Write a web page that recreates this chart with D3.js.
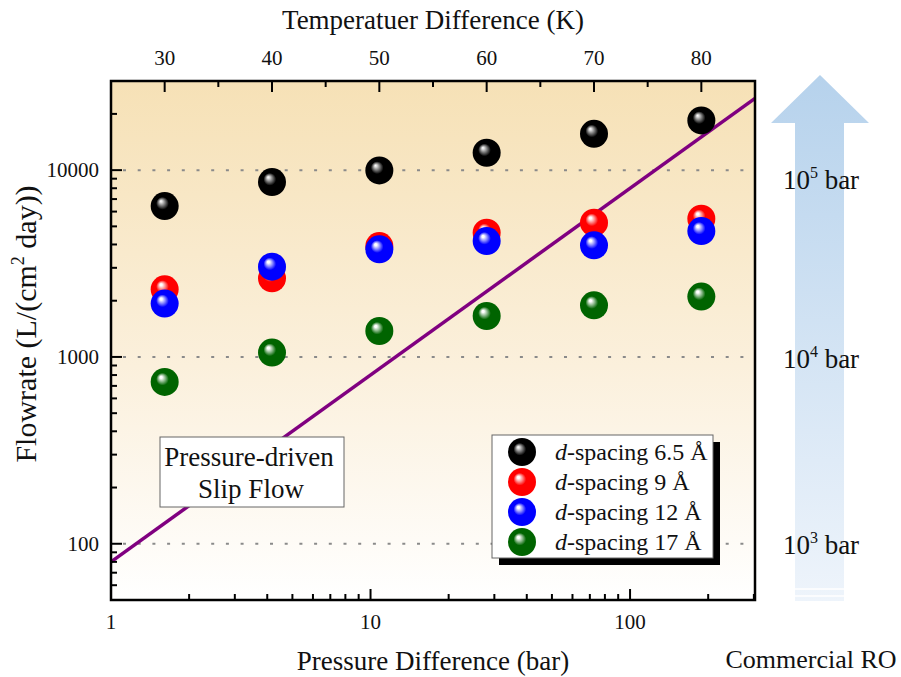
<!DOCTYPE html>
<html>
<head>
<meta charset="utf-8">
<script src="https://cdn.jsdelivr.net/npm/d3@7"></script>
<style>
  html, body { margin: 0; padding: 0; background: #fff; }
  svg { display: block; }
  text { font-family: "Liberation Serif", "Times New Roman", serif; fill: #111; }
</style>
</head>
<body>
<svg id="chart" width="901" height="677"></svg>
<script>
// ---------- data ----------
const temperatures = [30, 40, 50, 60, 70, 80];            // K (top axis)
const pressures = [1.62, 4.13, 10.6, 28.2, 73.2, 190];    // bar (bottom axis)
const seriesNames = ["6.5 Å", "9 Å", "12 Å", "17 Å"];
const seriesColors = ["#000000", "#ff0000", "#0000ff", "#006400"];
const flow65 = [6420, 8630, 9960, 12390, 15650, 18450];
const flow9  = [2300, 2636, 3923, 4625, 5233, 5500];
const flow12 = [1930, 3043, 3767, 4170, 3958, 4718];
const flow17 = [735, 1055, 1377, 1657, 1890, 2104];
const slipFlowX = [1, 303];
const slipFlowY = [80, 24240];
const yMajorTicks = [100, 1000, 10000];
const xMajorTicks = [1, 10, 100];
const topTicks = [30, 40, 50, 60, 70, 80];
const topMinorTicks = [35, 45, 55, 65, 75];
const roLabels = [["10", "5"], ["10", "4"], ["10", "3"]];

const allSeries = [flow65, flow9, flow12, flow17];

// ---------- layout ----------
const svg = d3.select("#chart");
const L = 111, R = 755, T = 81, B = 600;
const x = d3.scaleLog().domain([1, 303]).range([L, R]);
const xTop = d3.scaleLinear().domain([25, 85]).range([L, R]);
const y = d3.scaleLog().domain([50, 30000]).range([B, T]);

const defs = svg.append("defs");
const bg = defs.append("linearGradient").attr("id", "bg").attr("x1", 0).attr("y1", 0).attr("x2", 0).attr("y2", 1);
bg.append("stop").attr("offset", "0%").attr("stop-color", "#f6e1b6");
bg.append("stop").attr("offset", "55%").attr("stop-color", "#fbf0dc");
bg.append("stop").attr("offset", "100%").attr("stop-color", "#ffffff");

const ag = defs.append("linearGradient").attr("id", "arrowGrad").attr("x1", 0).attr("y1", 0).attr("x2", 0).attr("y2", 1);
ag.append("stop").attr("offset", "0%").attr("stop-color", "#b6d2ec");
ag.append("stop").attr("offset", "100%").attr("stop-color", "#eef4fb");

function light(c) { return d3.interpolateRgb(c, "#ffffff")(0.55); }
seriesColors.forEach((c, i) => {
  const g = defs.append("radialGradient").attr("id", "ball" + i)
    .attr("cx", "0.5").attr("cy", "0.5").attr("r", "0.5")
    .attr("fx", "0.36").attr("fy", "0.32");
  g.append("stop").attr("offset", "0%").attr("stop-color", "#ffffff");
  g.append("stop").attr("offset", "8%").attr("stop-color", i === 0 ? "#e0e0e0" : "#ffffff");
  g.append("stop").attr("offset", "25%").attr("stop-color", i === 0 ? "#777777" : light(c));
  g.append("stop").attr("offset", "45%").attr("stop-color", c);
  g.append("stop").attr("offset", "100%").attr("stop-color", c);
});

// plot background
svg.append("rect").attr("x", L).attr("y", T).attr("width", R - L).attr("height", B - T).attr("fill", "url(#bg)");

// gridlines
svg.append("g").selectAll("line").data(yMajorTicks).join("line")
  .attr("x1", L + 12).attr("x2", R).attr("y1", d => y(d)).attr("y2", d => y(d))
  .attr("stroke", "#8a8a8a").attr("stroke-width", 2).attr("stroke-dasharray", "3 11.7");

// slip flow line
svg.append("line")
  .attr("x1", x(slipFlowX[0])).attr("y1", y(slipFlowY[0]))
  .attr("x2", x(slipFlowX[1])).attr("y2", y(slipFlowY[1]))
  .attr("stroke", "#800080").attr("stroke-width", 3.5);

// points
const R0 = 14;
allSeries.forEach((vals, si) => {
  svg.append("g").selectAll("circle").data(vals).join("circle")
    .attr("cx", (d, i) => xTop(temperatures[i]))
    .attr("cy", d => y(d))
    .attr("r", R0)
    .attr("fill", "url(#ball" + si + ")");
});

// axes
const tickStroke = 2;
function logMinors(lo, hi) {
  const out = [];
  for (let e = Math.floor(Math.log10(lo)); e <= Math.ceil(Math.log10(hi)); e++) {
    for (let m = 2; m <= 9; m++) { const v = m * Math.pow(10, e); if (v >= lo && v <= hi) out.push(v); }
  }
  return out;
}
const axesG = svg.append("g").attr("stroke", "#000").attr("stroke-width", tickStroke);
axesG.selectAll(".ly").data(yMajorTicks).join("line").attr("class", "ly").attr("x1", L).attr("x2", L + 11).attr("y1", d => y(d)).attr("y2", d => y(d));
axesG.selectAll(".lym").data(logMinors(50, 30000)).join("line").attr("class", "lym").attr("x1", L).attr("x2", L + 6).attr("y1", d => y(d)).attr("y2", d => y(d));
axesG.selectAll(".bx").data(xMajorTicks).join("line").attr("class", "bx").attr("y1", B).attr("y2", B - 11).attr("x1", d => x(d)).attr("x2", d => x(d));
axesG.selectAll(".bxm").data(logMinors(1, 303)).join("line").attr("class", "bxm").attr("y1", B).attr("y2", B - 6).attr("x1", d => x(d)).attr("x2", d => x(d));
axesG.selectAll(".tx").data(topTicks).join("line").attr("class", "tx").attr("y1", T).attr("y2", T + 11).attr("x1", d => xTop(d)).attr("x2", d => xTop(d));
axesG.selectAll(".txm").data(topMinorTicks).join("line").attr("class", "txm").attr("y1", T).attr("y2", T + 6).attr("x1", d => xTop(d)).attr("x2", d => xTop(d));

// frame
svg.append("rect").attr("x", L).attr("y", T).attr("width", R - L).attr("height", B - T)
  .attr("fill", "none").attr("stroke", "#000").attr("stroke-width", 2.5);

// tick labels
svg.append("g").selectAll("text").data(yMajorTicks).join("text")
  .attr("x", L - 12).attr("y", d => y(d) + 7).attr("text-anchor", "end").attr("font-size", 21).text(d => d);
svg.append("g").selectAll("text").data(xMajorTicks).join("text")
  .attr("x", d => x(d)).attr("y", 629).attr("text-anchor", "middle").attr("font-size", 21).text(d => d);
svg.append("g").selectAll("text").data(topTicks).join("text")
  .attr("x", d => xTop(d)).attr("y", 65).attr("text-anchor", "middle").attr("font-size", 21).text(d => d);

// axis titles
svg.append("text").attr("x", 433).attr("y", 29).attr("text-anchor", "middle").attr("font-size", 27).text("Temperatuer Difference (K)");
svg.append("text").attr("x", 433).attr("y", 670).attr("text-anchor", "middle").attr("font-size", 27).text("Pressure Difference (bar)");
const yt = svg.append("text").attr("transform", "translate(36,324) rotate(-90)").attr("text-anchor", "middle").attr("font-size", 30);
yt.append("tspan").text("Flowrate (L/(cm");
yt.append("tspan").attr("dy", -12).attr("font-size", 18).text("2");
yt.append("tspan").attr("dy", 12).text(" day))");

// text box
svg.append("rect").attr("x", 160).attr("y", 437).attr("width", 184).attr("height", 70)
  .attr("fill", "#fff").attr("stroke", "#666").attr("stroke-width", 1);
svg.append("text").attr("x", 249).attr("y", 466).attr("text-anchor", "middle").attr("font-size", 27).text("Pressure-driven");
svg.append("text").attr("x", 251).attr("y", 498).attr("text-anchor", "middle").attr("font-size", 27).text("Slip Flow");

// legend
svg.append("rect").attr("x", 499).attr("y", 442).attr("width", 221).attr("height", 123).attr("fill", "#000");
svg.append("rect").attr("x", 492).attr("y", 435).attr("width", 221).attr("height", 123)
  .attr("fill", "#fff").attr("stroke", "#666").attr("stroke-width", 1);
seriesNames.forEach((nm, i) => {
  const cy = 452 + i * 30;
  svg.append("circle").attr("cx", 522).attr("cy", cy).attr("r", R0).attr("fill", "url(#ball" + i + ")");
  const t = svg.append("text").attr("x", 555).attr("y", cy + 8).attr("font-size", 24);
  t.append("tspan").attr("font-style", "italic").text("d");
  t.append("tspan").text("-spacing " + nm);
});

// commercial RO arrow
const ax0 = 795, ax1 = 844, hx0 = 771, hx1 = 869, tipY = 75, baseY = 123, botY = 601;
svg.append("path")
  .attr("d", `M${(hx0 + hx1) / 2},${tipY} L${hx1},${baseY} L${ax1},${baseY} L${ax1},${botY} L${ax0},${botY} L${ax0},${baseY} L${hx0},${baseY} Z`)
  .attr("fill", "url(#arrowGrad)");
[589, 596].forEach(yy => {
  svg.append("line").attr("x1", ax0).attr("x2", ax1).attr("y1", yy).attr("y2", yy).attr("stroke", "#fff").attr("stroke-width", 1.5);
});
const roY = [189, 368, 554];
roLabels.forEach((lab, i) => {
  const t = svg.append("text").attr("x", 821).attr("y", roY[i]).attr("text-anchor", "middle").attr("font-size", 27);
  t.append("tspan").text(lab[0]);
  t.append("tspan").attr("dy", -11).attr("font-size", 16).text(lab[1]);
  t.append("tspan").attr("dy", 11).text(" bar");
});
svg.append("text").attr("x", 811).attr("y", 668).attr("text-anchor", "middle").attr("font-size", 26).text("Commercial RO");
</script>
</body>
</html>
